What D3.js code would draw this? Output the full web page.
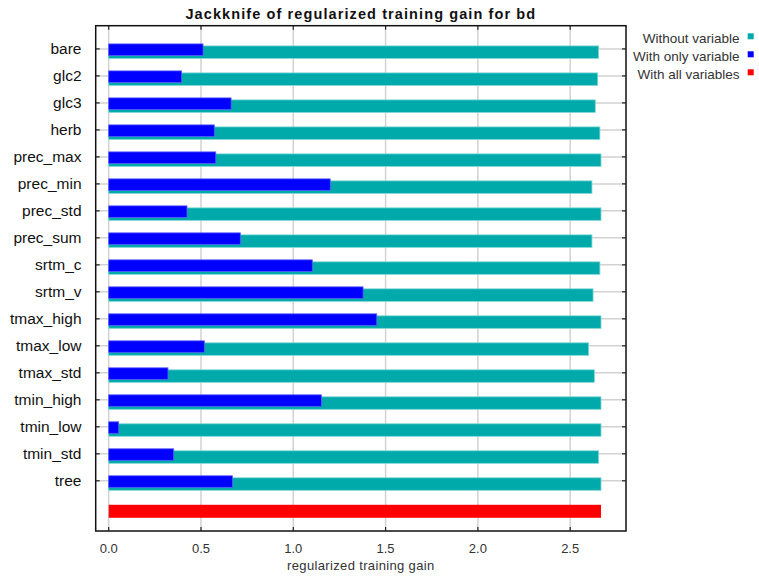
<!DOCTYPE html>
<html>
<head>
<meta charset="utf-8">
<script src="https://cdn.jsdelivr.net/npm/d3@7"></script>
<style>
  body { margin: 0; background: #fff; }
  text { font-family: Arial, "Liberation Sans", sans-serif; }
</style>
</head>
<body>
<div id="chart"></div>
<script>
// data
const variables = ["bare", "glc2", "glc3", "herb", "prec_max", "prec_min", "prec_std", "prec_sum",
    "srtm_c", "srtm_v", "tmax_high", "tmax_low", "tmax_std", "tmin_high", "tmin_low", "tmin_std", "tree"];
const withoutVariable = [2.654, 2.649, 2.636, 2.661, 2.667, 2.618, 2.667, 2.618,
    2.661, 2.624, 2.667, 2.600, 2.631, 2.667, 2.667, 2.654, 2.667];
const withOnlyVariable = [0.511, 0.395, 0.663, 0.572, 0.580, 1.200, 0.424, 0.713,
    1.103, 1.378, 1.452, 0.518, 0.321, 1.152, 0.054, 0.352, 0.670];
const withAllVariables = 2.667;
const xTicks = [0, 0.5, 1.0, 1.5, 2.0, 2.5];
const legendItems = [
    { label: "Without variable", color: "#00aaaa" },
    { label: "With only variable", color: "#0000ff" },
    { label: "With all variables", color: "#ff0000" }
];

const W = 759, H = 577;
const plot = { left: 95.7, right: 626, top: 25.7, bottom: 531 };

const svg = d3.select("#chart").append("svg")
    .attr("width", W)
    .attr("height", H);

const x = d3.scaleLinear()
    .domain([-0.0704, 2.8024])
    .range([plot.left, plot.right]);

const rows = variables.concat(["__all__"]);
const y = d3.scalePoint()
    .domain(rows)
    .range([plot.top, plot.bottom])
    .padding(0.86);

// grid
svg.append("g")
    .selectAll("line")
    .data(xTicks)
    .enter().append("line")
    .attr("x1", d => x(d)).attr("x2", d => x(d))
    .attr("y1", plot.top).attr("y2", plot.bottom)
    .attr("stroke", "#d2d2d2")
    .attr("stroke-width", 1.5);

svg.append("g")
    .selectAll("line")
    .data(variables)
    .enter().append("line")
    .attr("x1", plot.left).attr("x2", plot.right)
    .attr("y1", d => y(d)).attr("y2", d => y(d))
    .attr("stroke", "#d2d2d2")
    .attr("stroke-width", 1.5);

// without variable bars
svg.append("g")
    .selectAll("rect")
    .data(variables)
    .enter().append("rect")
    .attr("x", x(0))
    .attr("y", d => y(d) - 3)
    .attr("width", (d, i) => x(withoutVariable[i]) - x(0))
    .attr("height", 12.5)
    .attr("fill", "#00aaaa")
    .attr("stroke", "#7fd6d6")
    .attr("stroke-width", 0.8);

// with only variable bars
svg.append("g")
    .selectAll("rect")
    .data(variables)
    .enter().append("rect")
    .attr("x", x(0))
    .attr("y", d => y(d) - 5)
    .attr("width", (d, i) => x(withOnlyVariable[i]) - x(0))
    .attr("height", 11.5)
    .attr("fill", "#0000ff")
    .attr("stroke", "#5a5aff")
    .attr("stroke-width", 0.8);

// with all variables bar
svg.append("rect")
    .attr("x", x(0))
    .attr("y", y("__all__") - 3)
    .attr("width", x(withAllVariables) - x(0))
    .attr("height", 13)
    .attr("fill", "#ff0000");

// frame
svg.append("rect")
    .attr("x", plot.left).attr("y", plot.top)
    .attr("width", plot.right - plot.left)
    .attr("height", plot.bottom - plot.top)
    .attr("fill", "none")
    .attr("stroke", "#111")
    .attr("stroke-width", 1.5);

// inward ticks
const tickLen = 4;
const tg = svg.append("g").attr("stroke", "#222").attr("stroke-width", 1.2);
variables.forEach(v => {
    tg.append("line").attr("x1", plot.left).attr("x2", plot.left + tickLen)
        .attr("y1", y(v)).attr("y2", y(v));
    tg.append("line").attr("x1", plot.right - tickLen).attr("x2", plot.right)
        .attr("y1", y(v)).attr("y2", y(v));
});
xTicks.forEach(t => {
    tg.append("line").attr("x1", x(t)).attr("x2", x(t))
        .attr("y1", plot.top).attr("y2", plot.top + tickLen);
    tg.append("line").attr("x1", x(t)).attr("x2", x(t))
        .attr("y1", plot.bottom - tickLen).attr("y2", plot.bottom);
});

// category labels
svg.append("g")
    .selectAll("text")
    .data(variables)
    .enter().append("text")
    .attr("x", 81.5)
    .attr("y", d => y(d) + 5)
    .attr("text-anchor", "end")
    .style("font-size", "15.5px")
    .style("fill", "#111")
    .text(d => d);

// x tick labels
svg.append("g")
    .selectAll("text")
    .data(xTicks)
    .enter().append("text")
    .attr("x", d => x(d))
    .attr("y", 552.5)
    .attr("text-anchor", "middle")
    .style("font-size", "13px")
    .style("fill", "#333")
    .text(d3.format(".1f"));

// x axis title
svg.append("text")
    .attr("x", (plot.left + plot.right) / 2)
    .attr("y", 570)
    .attr("text-anchor", "middle")
    .style("font-size", "13px")
    .style("letter-spacing", "0.35px")
    .style("fill", "#333")
    .text("regularized training gain");

// chart title
svg.append("text")
    .attr("x", (plot.left + plot.right) / 2)
    .attr("y", 19)
    .attr("text-anchor", "middle")
    .style("font-size", "14.5px")
    .style("font-weight", "bold")
    .style("letter-spacing", "1.1px")
    .style("fill", "#111")
    .text("Jackknife of regularized training gain for bd");

// legend
const legend = svg.append("g");
legendItems.forEach((d, i) => {
    legend.append("text")
        .attr("x", 739.5)
        .attr("y", 43 + i * 18)
        .attr("text-anchor", "end")
        .style("font-size", "13.5px")
        .style("fill", "#333")
        .text(d.label);
    legend.append("rect")
        .attr("x", 747.7)
        .attr("y", 33.3 + i * 18)
        .attr("width", 6)
        .attr("height", 6)
        .attr("fill", d.color);
});
</script>
</body>
</html>
